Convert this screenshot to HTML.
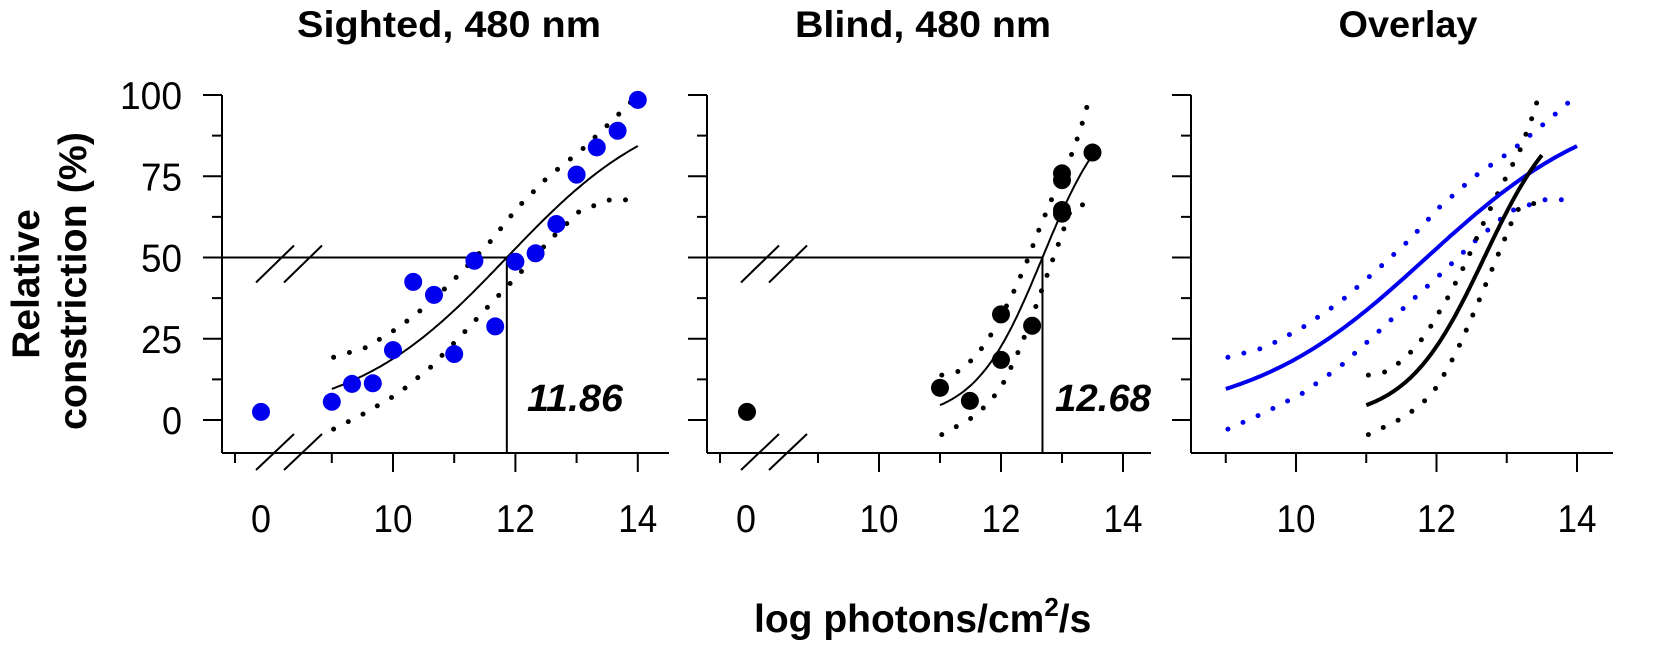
<!DOCTYPE html>
<html><head><meta charset="utf-8"><style>
html,body{margin:0;padding:0;background:#fff;}
svg{display:block;font-family:"Liberation Sans",sans-serif;}
</style></head><body>
<svg id="chart" width="1654" height="648" viewBox="0 0 1654 648" xmlns="http://www.w3.org/2000/svg">
<g id="root"></g>
</svg>
<script>
// ---- data ----
const sightedX = [9,9.33,9.67,10,10.33,10.67,11,11.33,11.67,12,12.33,12.67,13,13.33,13.67,14];
const sightedY = [5.6,11.1,11.3,21.5,42.5,38.5,20.3,49,28.8,48.7,51.3,60.3,75.5,83.9,89,98.5];
const sightedDarkY = [2.5];
const sightedFit = [11.86, 0.341];
const sightedUpX = [9.03,9.56,10.09,10.62,11.14,11.6,12.04,12.54,13.07,13.59,14];
const sightedUpY = [19.3,22.3,28.4,36.2,45.9,55.1,65.4,74.9,82.9,92.2,100];
const sightedLoX = [9.03,9.56,10.09,10.62,11.12,11.61,12.1,12.57,13.05,13.58,14];
const sightedLoY = [-2.8,2.3,8.2,16.3,26.1,36,45.7,55.5,64.3,68,67.5];

const blindX = [11,11.49,12,12,12.51,13,13,13,13,13.5];
const blindY = [9.9,5.9,32.5,18.5,29,75.9,73.8,64.6,63.5,82.3];
const blindDarkY = [2.5];
const blindFit = [12.68, 0.785];
const blindUpX = [11.03,11.29,11.55,11.76,11.92,12.19,12.42,12.62,12.84,13.19,13.36,13.46];
const blindUpY = [13.8,14.9,18.9,23.9,28.9,38.7,48.5,58.4,68.3,83.1,93,100];
const blindLoX = [11.03,11.29,11.55,11.81,12.01,12.14,12.26,12.37,12.57,12.76,12.95,13.14,13.43];
const blindLoY = [-4.5,-1.8,1,5.4,10.3,15.2,20,25,34.9,44.8,54.6,64.6,67];

const yTicks = [0,12.5,25,37.5,50,62.5,75,87.5,100];
const yTickLabels = ["0","","25","","50","","75","","100"];
const xTicks = [9,10,11,12,13,14];
const xTickLabels = ["","10","","12","","14"];

// ---- drawing ----
const NS = "http://www.w3.org/2000/svg";
const root = document.getElementById('root');
function mk(tag, attrs, parent){
  const e = document.createElementNS(NS, tag);
  for (const k in attrs) e.setAttribute(k, attrs[k]);
  (parent||root).appendChild(e); return e;
}
const Y0 = 420, YK = 3.25, XAXIS_Y = 453, YTOP = 95;
const py = v => Y0 - v*YK;
function logistic(x, p){ return 100/(1+Math.pow(10, p[1]*(p[0]-x))); }

function panel(opt){
  const g = mk('g', {});
  
  
  const px = v => opt.x10 + (v-10)*opt.k;
  // axes
  const ya = mk('line', {x1:opt.left, y1:YTOP, x2:opt.left, y2:XAXIS_Y, stroke:'#000','stroke-width':2}, g);
   
  const xa = mk('line', {x1:opt.left, y1:XAXIS_Y, x2:opt.right, y2:XAXIS_Y, stroke:'#000','stroke-width':2}, g);
   
  yTicks.forEach((t,i)=>{
    const major = (t%25===0);
    const tk = mk('line', {x1:opt.left-(major?19:10), y1:py(t), x2:opt.left, y2:py(t), stroke:'#000','stroke-width':2}, g);
     
    if (opt.yLabels && yTickLabels[i]) {
      const s = yTickLabels[i];
      const tx = mk('text', {x:182, y:py(t)+14, 'text-anchor':'end','font-size':39, textLength: s.length===3?62:(s.length===2?41:20), lengthAdjust:'spacingAndGlyphs'}, g);
      tx.textContent = s;
       
    }
  });
  xTicks.forEach((t,i)=>{
    const major = (t%2===0);
    const tk = mk('line', {x1:px(t), y1:XAXIS_Y, x2:px(t), y2:XAXIS_Y+(major?19:10), stroke:'#000','stroke-width':2}, g);
     
    if (xTickLabels[i]) {
      const tx = mk('text', {x:px(t), y:532, 'text-anchor':'middle','font-size':39, textLength:39, lengthAdjust:'spacingAndGlyphs'}, g);
      tx.textContent = xTickLabels[i];
       
    }
  });
  if (opt.breakAxis){
    const L = opt.left;
    const tk = mk('line', {x1:L+13, y1:XAXIS_Y, x2:L+13, y2:XAXIS_Y+10, stroke:'#000','stroke-width':2}, g);
     
    const zl = mk('text', {x:L+39, y:532, 'text-anchor':'middle','font-size':39, textLength:20, lengthAdjust:'spacingAndGlyphs'}, g);
    zl.textContent = '0';
     
    // 50% reference lines
    const x50 = px(opt.fit[0]);
    const hl = mk('line', {x1:L, y1:py(50), x2:x50, y2:py(50), stroke:'#000','stroke-width':2}, g);
     
    const vl = mk('line', {x1:x50, y1:py(50), x2:x50, y2:XAXIS_Y, stroke:'#000','stroke-width':2}, g);
     
    // break slashes
    [[py(50)+25, py(50)-12],[XAXIS_Y+17, XAXIS_Y-19]].forEach(([yb,yt])=>{
      [34, 62].forEach(dx=>{
        const s = mk('line', {x1:L+dx, y1:yb, x2:L+dx+38, y2:yt, stroke:'#000','stroke-width':2}, g);
         
      });
    });
    const lab = mk('text', {x:opt.ecLabelX, y:411, 'font-size':38,'font-weight':'bold','font-style':'italic', textLength:96, lengthAdjust:'spacingAndGlyphs'}, g);
    lab.textContent = opt.fit[0].toFixed(2);
     
  }
  return {g, px};
}

function drawFit(P, fit, x0, x1, color, w, name){
  let d = '';
  for (let i=0;i<=100;i++){ const x = x0+(x1-x0)*i/100; d += (i?'L':'M')+P.px(x).toFixed(1)+','+py(logistic(x,fit)).toFixed(1); }
  const p = mk('path', {d, fill:'none', stroke:color, 'stroke-width':w}, P.g);
   
}
function drawCI(P, xs, ys, color, name){
  const pts = xs.map((x,i)=>P.px(x).toFixed(1)+','+py(ys[i]).toFixed(1)).join(' ');
  const p = mk('polyline', {points:pts, fill:'none', stroke:color, 'stroke-width':5, 'stroke-linecap':'round', 'stroke-dasharray':'0 16.5'}, P.g);
   
}
function drawPoints(P, xs, ys, color, name){
  xs.forEach((x,i)=>{
    const c = mk('circle', {cx:P.px(x), cy:py(ys[i]), r:9, fill:color}, P.g);
     
  });
}

const BLUE = '#0000ee';
// Panel 1
const P1 = panel({name:'sighted-panel', left:222, right:669, x10:393, k:61.2, yLabels:true, breakAxis:true, fit:sightedFit, ecLabelX:527});
drawCI(P1, sightedUpX, sightedUpY, '#000', 'sighted-ci-upper');
drawCI(P1, sightedLoX, sightedLoY, '#000', 'sighted-ci-lower');
drawFit(P1, sightedFit, 9, 14, '#000', 2, 'sighted-fit-curve');
drawPoints(P1, sightedX, sightedY, BLUE, 'sighted-data-point');
sightedDarkY.forEach(v=>{ const c = mk('circle',{cx:261, cy:py(v), r:9, fill:BLUE}, P1.g);
    });

// Panel 2
const P2 = panel({name:'blind-panel', left:707, right:1151, x10:879, k:61, yLabels:false, breakAxis:true, fit:blindFit, ecLabelX:1055});
drawCI(P2, blindUpX, blindUpY, '#000', 'blind-ci-upper');
drawCI(P2, blindLoX, blindLoY, '#000', 'blind-ci-lower');
drawFit(P2, blindFit, 11, 13.5, '#000', 2, 'blind-fit-curve');
drawPoints(P2, blindX, blindY, '#000', 'blind-data-point');
blindDarkY.forEach(v=>{ const c = mk('circle',{cx:747, cy:py(v), r:9, fill:'#000'}, P2.g);
    });

// Panel 3
const P3 = panel({name:'overlay-panel', left:1191, right:1613, x10:1296, k:70.25, yLabels:false, breakAxis:false});
drawCI(P3, sightedUpX, sightedUpY, BLUE, 'overlay-sighted-ci-upper');
drawCI(P3, sightedLoX, sightedLoY, BLUE, 'overlay-sighted-ci-lower');
drawCI(P3, blindUpX, blindUpY, '#000', 'overlay-blind-ci-upper');
drawCI(P3, blindLoX, blindLoY, '#000', 'overlay-blind-ci-lower');
drawFit(P3, sightedFit, 9, 14, BLUE, 4, 'overlay-sighted-fit');
drawFit(P3, blindFit, 11, 13.5, '#000', 4, 'overlay-blind-fit');
</script>
<svg width="0" height="0" style="position:absolute"></svg>
<script>
(function(){
  const NS="http://www.w3.org/2000/svg", svg=document.getElementById('chart');
  function t(txt,attrs,name){const e=document.createElementNS(NS,'text');for(const k in attrs)e.setAttribute(k,attrs[k]);e.textContent=txt;
    
    
    svg.appendChild(e);return e;}
  t('Sighted, 480 nm',{x:449,y:37,'text-anchor':'middle','font-size':37,'font-weight':'bold',textLength:304,lengthAdjust:'spacingAndGlyphs'},'sighted-title');
  t('Blind, 480 nm',{x:923,y:37,'text-anchor':'middle','font-size':37,'font-weight':'bold',textLength:256,lengthAdjust:'spacingAndGlyphs'},'blind-title');
  t('Overlay',{x:1408,y:37,'text-anchor':'middle','font-size':37,'font-weight':'bold',textLength:139,lengthAdjust:'spacingAndGlyphs'},'overlay-title');
  t('Relative',{x:0,y:0,transform:'translate(39,284) rotate(-90)','text-anchor':'middle','font-size':39,'font-weight':'bold'},'y-axis-title-line1');
  t('constriction (%)',{x:0,y:0,transform:'translate(86,281) rotate(-90)','text-anchor':'middle','font-size':39,'font-weight':'bold',textLength:298,lengthAdjust:'spacingAndGlyphs'},'y-axis-title-line2');
  const xt=t('',{x:754,y:632,'font-size':39,'font-weight':'bold'},'x-axis-title');
  xt.innerHTML='log photons/cm<tspan dy="-16" font-size="26">2</tspan><tspan dy="16">/s</tspan>';
})();
</script>
</body></html>
